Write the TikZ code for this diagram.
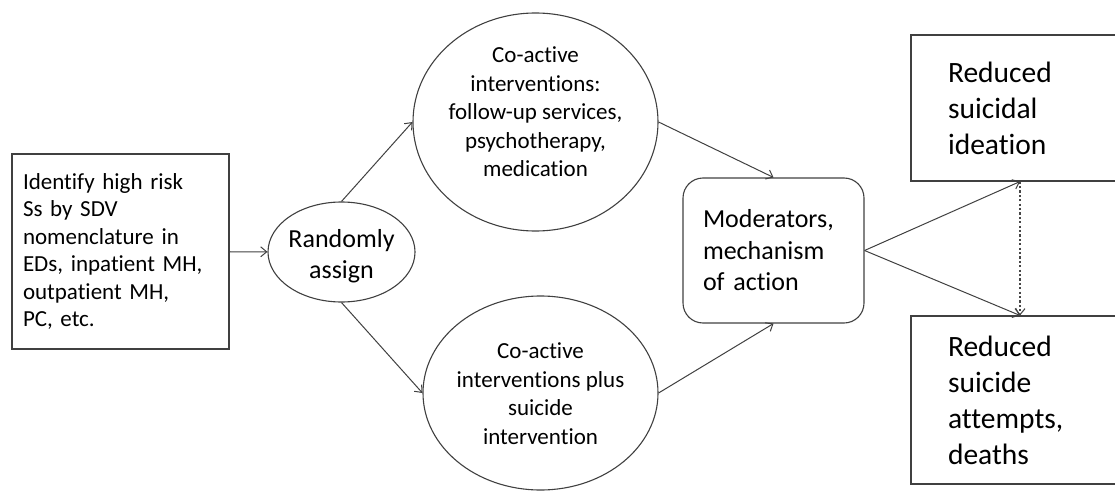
\documentclass[tikz,border=0pt]{standalone}
\usepackage{fontspec}
\setmainfont{Carlito}[Ligatures=NoCommon]
\usetikzlibrary{arrows.meta,shapes.geometric}
\definecolor{linegray}{RGB}{64,64,64}
\definecolor{dotgray}{RGB}{70,70,70}
\begin{document}
\begin{tikzpicture}[x=1pt,y=-1pt,
  shp/.style={draw=linegray, line width=1.1pt, inner sep=0pt},
  ell/.style={shp, ellipse},
  txt/.style={inner sep=0pt, align=center},
  arr/.style={draw=linegray, line width=1pt, -{Straight Barb[length=6pt,width=10pt]}},
  dotarr/.style={draw=dotgray, line width=1.1pt, dash pattern=on 2.2pt off 2.2pt, -{Straight Barb[length=6pt,width=10pt]}},
  fA/.style={font=\fontsize{23}{27.5}\selectfont},
  fB/.style={font=\fontsize{23}{28.5}\selectfont},
  fC/.style={font=\fontsize{26}{31.5}\selectfont},
  fD/.style={font=\fontsize{29.5}{36}\selectfont}
]
\useasboundingbox (0,0) rectangle (1115,492);
\clip (0,0) rectangle (1115,492);

% left box
\node[shp, fA, minimum width=217pt, minimum height=195pt, text width=195pt, align=left]
  (idbox) at (120.5,251.5) {Identify high risk\\Ss by SDV\\nomenclature in\\EDs, inpatient MH,\\outpatient MH,\\PC, etc.};

% randomly assign
\node[ell, minimum width=147pt, minimum height=100pt] (rand) at (341.5,252) {};
\node[txt, fC] (randt) at (341.5,256) {Randomly\\assign};

% top ellipse
\node[ell, minimum width=245pt, minimum height=218pt] (coact) at (535.5,122) {};
\node[txt, fB] (coactt) at (535.5,112) {Co-active\\interventions:\\follow-up services,\\psychotherapy,\\medication};

% bottom ellipse
\node[ell, minimum width=235pt, minimum height=194pt] (plus) at (540.5,393) {};
\node[txt, fB] (plust) at (540.5,393.5) {Co-active\\interventions plus\\suicide\\intervention};

% moderators
\node[shp, fC, rounded corners=20pt, minimum width=181pt, minimum height=145pt, text width=141pt, align=left]
  (mod) at (773.5,250.5) {Moderators,\\mechanism\\of action};

% outcome boxes
\node[shp, fD, minimum width=218pt, minimum height=146pt, text width=144pt, align=left]
  (ideat) at (1020,108) {Reduced\\suicidal\\ideation};
\node[shp, fD, minimum width=218pt, minimum height=168pt, text width=144pt, align=left]
  (attempt) at (1020,400) {Reduced\\suicide\\attempts,\\deaths};

% connectors
\draw[arr] (idbox) -- (rand);
\draw[arr] (rand.north) -- (coact.west);
\draw[arr] (rand.south) -- (plus.west);
\draw[arr] (coact.east) -- (mod.north);
\draw[arr] (plus.east) -- (mod.south);
\draw[arr] (mod.east) -- (ideat.south);
\draw[arr] (mod.east) -- (attempt.north);
\draw[dotarr] (ideat.south) -- (attempt.north);
\end{tikzpicture}
\end{document}
